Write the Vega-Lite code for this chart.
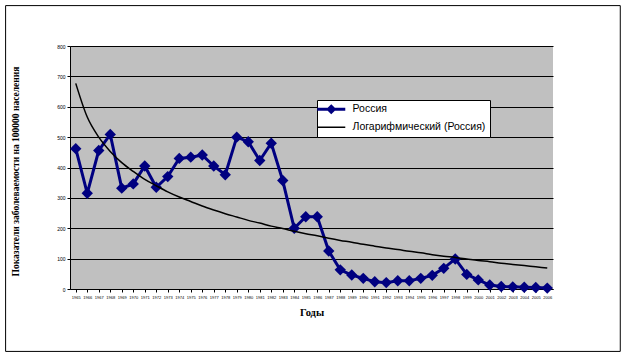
{
  "$schema": "https://vega.github.io/schema/vega-lite/v6.json",
  "width": 483,
  "height": 243,
  "autosize": {"type": "none"},
  "padding": {"left": 70, "top": 46, "right": 70, "bottom": 69},
  "background": "white",
  "config": {
    "view": {"fill": "#c0c0c0", "stroke": null},
    "font": "Liberation Sans",
    "axisX": {
      "tickCount": 42,
      "format": "d", "labelAngle": 0, "labelFontSize": 4, "labelColor": "black",
      "labelPadding": 3, "labelOverlap": false, "labelFlush": false,
      "tickSize": 3, "tickColor": "black", "domainColor": "black", "grid": false,
      "titleFont": "Liberation Serif", "titleFontWeight": "bold", "titleFontSize": 10.5,
      "titleColor": "black", "titleY": 23, "titleBaseline": "middle"
    },
    "axisY": {
      "tickCount": 8,
      "labelFontSize": 5, "labelColor": "black", "labelPadding": 2, "labelOverlap": false,
      "tickSize": 3, "tickColor": "black", "domainColor": "black",
      "grid": true, "gridColor": "black", "gridWidth": 1,
      "titleFont": "Liberation Serif", "titleFontWeight": "bold", "titleFontSize": 9.5,
      "titleColor": "black", "titleX": -55, "titleY": 125, "titleAngle": -90,
      "titleAlign": "center", "titleBaseline": "middle"
    }
  },
  "datasets": {
    "russia": [
      {"year": 1965, "value": 462, "series": "Россия"},
      {"year": 1966, "value": 315, "series": "Россия"},
      {"year": 1967, "value": 456, "series": "Россия"},
      {"year": 1968, "value": 509, "series": "Россия"},
      {"year": 1969, "value": 332, "series": "Россия"},
      {"year": 1970, "value": 346, "series": "Россия"},
      {"year": 1971, "value": 405, "series": "Россия"},
      {"year": 1972, "value": 335, "series": "Россия"},
      {"year": 1973, "value": 370, "series": "Россия"},
      {"year": 1974, "value": 430, "series": "Россия"},
      {"year": 1975, "value": 434, "series": "Россия"},
      {"year": 1976, "value": 441, "series": "Россия"},
      {"year": 1977, "value": 405, "series": "Россия"},
      {"year": 1978, "value": 376, "series": "Россия"},
      {"year": 1979, "value": 500, "series": "Россия"},
      {"year": 1980, "value": 485, "series": "Россия"},
      {"year": 1981, "value": 423, "series": "Россия"},
      {"year": 1982, "value": 480, "series": "Россия"},
      {"year": 1983, "value": 357, "series": "Россия"},
      {"year": 1984, "value": 200, "series": "Россия"},
      {"year": 1985, "value": 238, "series": "Россия"},
      {"year": 1986, "value": 238, "series": "Россия"},
      {"year": 1987, "value": 125, "series": "Россия"},
      {"year": 1988, "value": 63, "series": "Россия"},
      {"year": 1989, "value": 46, "series": "Россия"},
      {"year": 1990, "value": 35, "series": "Россия"},
      {"year": 1991, "value": 24, "series": "Россия"},
      {"year": 1992, "value": 21, "series": "Россия"},
      {"year": 1993, "value": 27, "series": "Россия"},
      {"year": 1994, "value": 27, "series": "Россия"},
      {"year": 1995, "value": 35, "series": "Россия"},
      {"year": 1996, "value": 45, "series": "Россия"},
      {"year": 1997, "value": 68, "series": "Россия"},
      {"year": 1998, "value": 99, "series": "Россия"},
      {"year": 1999, "value": 48, "series": "Россия"},
      {"year": 2000, "value": 30, "series": "Россия"},
      {"year": 2001, "value": 13, "series": "Россия"},
      {"year": 2002, "value": 8, "series": "Россия"},
      {"year": 2003, "value": 7, "series": "Россия"},
      {"year": 2004, "value": 6, "series": "Россия"},
      {"year": 2005, "value": 5, "series": "Россия"},
      {"year": 2006, "value": 3, "series": "Россия"}
    ],
    "trend": [
      {"year": 1965, "value": 677, "series": "Логарифмический (Россия)"},
      {"year": 1966, "value": 566, "series": "Логарифмический (Россия)"},
      {"year": 1967, "value": 500, "series": "Логарифмический (Россия)"},
      {"year": 1968, "value": 453, "series": "Логарифмический (Россия)"},
      {"year": 1969, "value": 416, "series": "Логарифмический (Россия)"},
      {"year": 1970, "value": 387, "series": "Логарифмический (Россия)"},
      {"year": 1971, "value": 361, "series": "Логарифмический (Россия)"},
      {"year": 1972, "value": 340, "series": "Логарифмический (Россия)"},
      {"year": 1973, "value": 320, "series": "Логарифмический (Россия)"},
      {"year": 1974, "value": 303, "series": "Логарифмический (Россия)"},
      {"year": 1975, "value": 288, "series": "Логарифмический (Россия)"},
      {"year": 1976, "value": 273, "series": "Логарифмический (Россия)"},
      {"year": 1977, "value": 260, "series": "Логарифмический (Россия)"},
      {"year": 1978, "value": 248, "series": "Логарифмический (Россия)"},
      {"year": 1979, "value": 237, "series": "Логарифмический (Россия)"},
      {"year": 1980, "value": 226, "series": "Логарифмический (Россия)"},
      {"year": 1981, "value": 217, "series": "Логарифмический (Россия)"},
      {"year": 1982, "value": 207, "series": "Логарифмический (Россия)"},
      {"year": 1983, "value": 199, "series": "Логарифмический (Россия)"},
      {"year": 1984, "value": 190, "series": "Логарифмический (Россия)"},
      {"year": 1985, "value": 182, "series": "Логарифмический (Россия)"},
      {"year": 1986, "value": 175, "series": "Логарифмический (Россия)"},
      {"year": 1987, "value": 167, "series": "Логарифмический (Россия)"},
      {"year": 1988, "value": 160, "series": "Логарифмический (Россия)"},
      {"year": 1989, "value": 154, "series": "Логарифмический (Россия)"},
      {"year": 1990, "value": 147, "series": "Логарифмический (Россия)"},
      {"year": 1991, "value": 141, "series": "Логарифмический (Россия)"},
      {"year": 1992, "value": 135, "series": "Логарифмический (Россия)"},
      {"year": 1993, "value": 130, "series": "Логарифмический (Россия)"},
      {"year": 1994, "value": 124, "series": "Логарифмический (Россия)"},
      {"year": 1995, "value": 119, "series": "Логарифмический (Россия)"},
      {"year": 1996, "value": 113, "series": "Логарифмический (Россия)"},
      {"year": 1997, "value": 108, "series": "Логарифмический (Россия)"},
      {"year": 1998, "value": 104, "series": "Логарифмический (Россия)"},
      {"year": 1999, "value": 99, "series": "Логарифмический (Россия)"},
      {"year": 2000, "value": 94, "series": "Логарифмический (Россия)"},
      {"year": 2001, "value": 90, "series": "Логарифмический (Россия)"},
      {"year": 2002, "value": 85, "series": "Логарифмический (Россия)"},
      {"year": 2003, "value": 81, "series": "Логарифмический (Россия)"},
      {"year": 2004, "value": 77, "series": "Логарифмический (Россия)"},
      {"year": 2005, "value": 73, "series": "Логарифмический (Россия)"},
      {"year": 2006, "value": 69, "series": "Логарифмический (Россия)"}
    ]
  },
  "layer": [
    {
      "data": {"values": [{}]},
      "mark": {"type": "rect", "fill": "transparent", "stroke": "black", "strokeWidth": 1},
      "encoding": {
        "x": {"datum": 1958.9, "type": "quantitative", "title": "Годы", "axis": {"tickCount": 42}, "scale": {"domain": [1964.5, 2006.5], "nice": false, "zero": false}},
        "x2": {"datum": 2012.35},
        "y": {"datum": -205.5, "type": "quantitative", "title": "Показатели заболеваемости на 100000 населения", "axis": {"tickCount": 8}, "scale": {"domain": [0, 800], "nice": false}},
        "y2": {"datum": 933}
      }
    },
    {
      "data": {"name": "russia"},
      "mark": {"type": "line", "strokeWidth": 3, "point": {"shape": "diamond", "size": 130, "filled": true}},
      "encoding": {
        "x": {
          "field": "year", "type": "quantitative", "title": "Годы", "axis": {"tickCount": 42},
          "scale": {"domain": [1964.5, 2006.5], "nice": false, "zero": false}
        },
        "y": {
          "field": "value", "type": "quantitative", "title": "Показатели заболеваемости на 100000 населения", "axis": {"tickCount": 8},
          "scale": {"domain": [0, 800], "nice": false}
        },
        "color": {
          "field": "series", "type": "nominal",
          "scale": {"domain": ["Россия", "Логарифмический (Россия)"], "range": ["#000080", "#000000"]},
          "legend": {
            "orient": "none", "legendX": 247, "legendY": 54, "title": null,
            "fillColor": "white", "strokeColor": "black", "padding": 4,
            "symbolSize": 289, "symbolOffset": 5, "labelOffset": 16, "rowPadding": 3,
            "labelFont": "Liberation Sans", "labelFontSize": 10.5, "labelColor": "black",
            "symbolType": "M-1.65,0L1.65,0",
            "encode": {
              "symbols": {
                "update": {
                  "shape": {"signal": "datum.value === 'Россия' ? 'M-1.65,0L1.65,0M0,-0.35L0.35,0L0,0.35L-0.35,0Z' : 'M-1.65,0L1.65,0'"},
                  "fill": {"signal": "datum.value === 'Россия' ? '#000080' : 'transparent'"},
                  "stroke": {"signal": "datum.value === 'Россия' ? '#000080' : '#000000'"},
                  "strokeWidth": {"signal": "datum.value === 'Россия' ? 3 : 1.5"}
                }
              }
            }
          }
        }
      }
    },
    {
      "data": {"name": "trend"},
      "mark": {"type": "line", "strokeWidth": 1.5, "interpolate": "monotone"},
      "encoding": {
        "x": {"field": "year", "type": "quantitative", "title": "Годы", "axis": {"tickCount": 42}, "scale": {"domain": [1964.5, 2006.5], "nice": false, "zero": false}},
        "y": {"field": "value", "type": "quantitative", "title": "Показатели заболеваемости на 100000 населения", "axis": {"tickCount": 8}, "scale": {"domain": [0, 800], "nice": false}},
        "color": {"field": "series", "type": "nominal", "scale": {"domain": ["Россия", "Логарифмический (Россия)"], "range": ["#000080", "#000000"]}}
      }
    }
  ]
}
